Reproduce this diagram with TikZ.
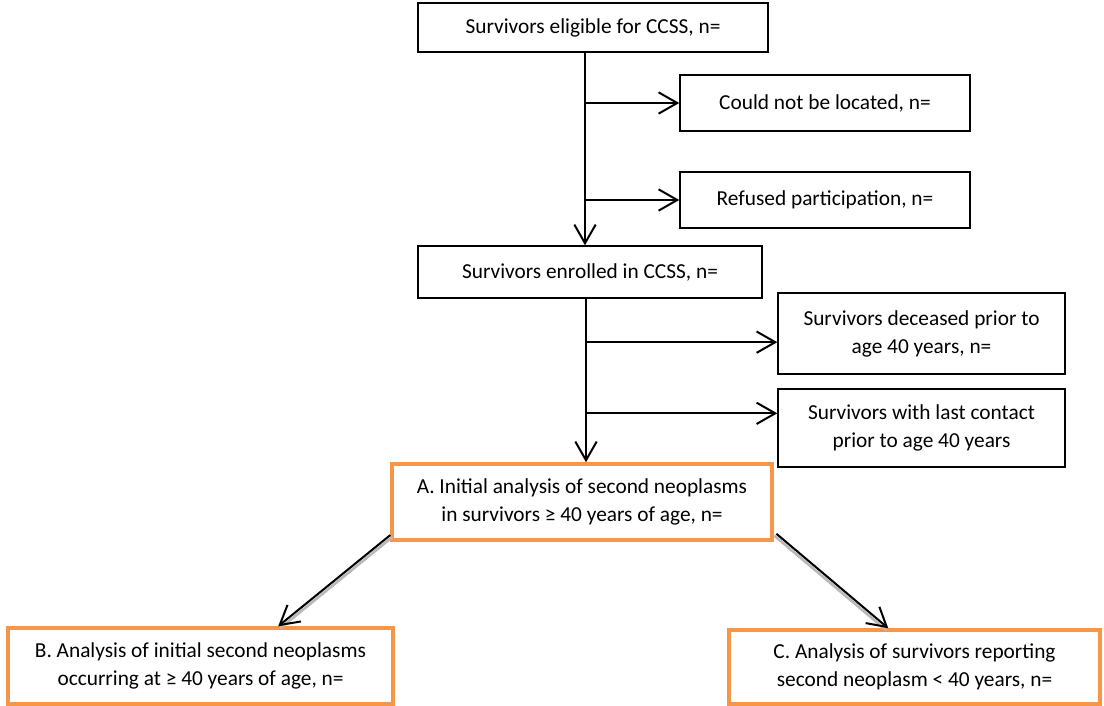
\documentclass[tikz,border=0pt]{standalone}
\usepackage{fontspec}
\setmainfont{Carlito}
\usetikzlibrary{arrows.meta,calc}
\definecolor{boxorange}{RGB}{247,150,70}
\tikzset{
  flowbox/.style={draw=black, line width=1.1pt, align=center, inner sep=2pt,
    font=\fontsize{16}{21}\selectfont},
  keybox/.style={flowbox, draw=boxorange, line width=2.6pt},
  boxsize/.style 2 args={minimum width=#1*0.75pt, minimum height=#2*0.75pt},
  arr/.style={line width=1.5pt, -{Straight Barb[length=14pt,width=16pt,line width=1.5pt]}},
  shadeline/.style={gray!55, line width=2pt}
}

\begin{document}
\begin{tikzpicture}[x=0.75pt, y=-0.75pt]
  \useasboundingbox (0,0) rectangle (1104,706);

  \node[flowbox, boxsize={350}{49}] (elig) at (593,27.5) {Survivors eligible for CCSS, n=};
  \node[flowbox, boxsize={290}{56}] (noloc) at (825,103) {Could not be located, n=};
  \node[flowbox, boxsize={290}{56}] (refused) at (825,200) {Refused participation, n=};
  \node[flowbox, boxsize={344}{52}] (enrolled) at (590,272) {Survivors enrolled in CCSS, n=};
  \node[flowbox, boxsize={287}{81}] (deceased) at (921.5,333.5) {Survivors deceased prior to\\age 40 years, n=};
  \node[flowbox, boxsize={287}{78}] (lastcontact) at (921.5,428) {Survivors with last contact\\prior to age 40 years};
  \node[keybox, boxsize={380}{76}] (initial) at (582,502) {A. Initial analysis of second neoplasms\\in survivors ≥ 40 years of age, n=};
  \node[keybox, boxsize={385}{76}] (older) at (200.5,666) {B. Analysis of initial second neoplasms\\occurring at ≥ 40 years of age, n=};
  \node[keybox, boxsize={371}{74}] (younger) at (914.5,667) {C. Analysis of survivors reporting\\second neoplasm < 40 years, n=};

  \coordinate (trunkA) at (585,52);
  \draw[arr] (trunkA) -- (trunkA |- enrolled.north);
  \draw[arr] (trunkA |- noloc.west) -- (noloc.west);
  \draw[arr] (trunkA |- refused.west) -- (refused.west);

  \coordinate (trunkB) at (586,298);
  \coordinate (decin) at ([yshift=-6.5pt]deceased.west);
  \coordinate (lastin) at ([yshift=11pt]lastcontact.west);
  \draw[arr] (trunkB) -- (trunkB |- initial.north);
  \draw[arr] (trunkB |- decin) -- (decin);
  \draw[arr] (trunkB |- lastin) -- (lastin);

  \coordinate (aleft) at ([yshift=5pt]initial.south west);
  \coordinate (aright) at ([xshift=2pt,yshift=6pt]initial.south east);
  \coordinate (olderin) at ($(older.north west)!0.7!(older.north east)$);
  \coordinate (youngerin) at ($(younger.north west)!0.43!(younger.north east)$);
  \draw[shadeline, transform canvas={xshift=1.5pt,yshift=-1.5pt}] (aleft) -- (olderin);
  \draw[shadeline, transform canvas={xshift=-1.5pt,yshift=-1.5pt}] (aright) -- (youngerin);
  \draw[arr] (aleft) -- (olderin);
  \draw[arr] (aright) -- (youngerin);
\end{tikzpicture}
\end{document}
